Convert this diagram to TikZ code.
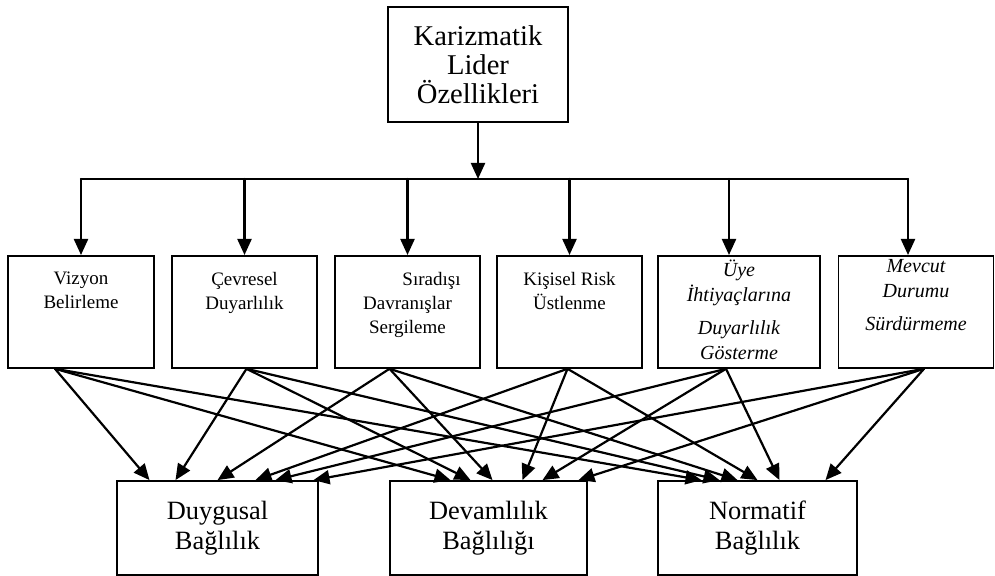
\documentclass[tikz,border=0pt]{standalone}
\usepackage{fontspec}
\setmainfont{Liberation Serif}
\usetikzlibrary{arrows.meta}

\tikzset{
  topbox/.style={draw,line width=0.9pt,inner sep=0pt,align=center,
    minimum width=90pt,minimum height=57.5pt,
    font=\fontsize{14.3}{14.5}\selectfont},
  midbox/.style={draw,line width=0.9pt,inner sep=0pt,anchor=north,
    font=\fontsize{9.5}{12}\selectfont},
  endbox/.style={draw,line width=0.9pt,inner sep=0pt,align=center,
    minimum height=47pt,font=\fontsize{13.2}{15}\selectfont},
  link/.style={line width=1.1pt,-{Triangle[length=8pt,width=7pt]}},
}
% text of a middle box, set from its top
\newcommand{\celltext}[3][8pt]{\parbox[c][56pt][t]{#2}{\centering\vspace*{#1}#3}}

\begin{document}
\begin{tikzpicture}[x=0.5pt,y=-0.5pt,line cap=round]
  \useasboundingbox (0,0) rectangle (995,576);

  \node[topbox] (lider) at (478,64.5) {Karizmatik\\Lider\\Özellikleri};

  \node[midbox] (vizyon) at (81,255) {\celltext{73pt}{Vizyon\\Belirleme}};
  \node[midbox] (cevresel) at (244.5,255) {\celltext{72.5pt}{Çevresel\\Duyarlılık}};
  \node[midbox] (siradisi) at (407.5,255)
    {\celltext{72.5pt}{\hspace*{24pt}Sıradışı\\Davranışlar\\Sergileme}};
  \node[midbox] (risk) at (569.5,255) {\celltext{72.5pt}{Kişisel Risk\\Üstlenme}};
  \node[midbox,font=\fontsize{10}{12.5}\selectfont\itshape] (uye) at (739,255)
    {\celltext[2pt]{81pt}{Üye\\İhtiyaçlarına\\[4pt]Duyarlılık\\Gösterme}};
  \node[midbox,font=\fontsize{10}{12.5}\selectfont\itshape] (mevcut) at (916,255)
    {\celltext[2pt]{77.5pt}{Mevcut\\Durumu\\[4pt]Sürdürmeme}};

  \node[endbox,minimum width=100.5pt] (duygusal) at (217.5,528) {Duygusal\\Bağlılık};
  \node[endbox,minimum width=98.5pt] (devamlilik) at (488.5,528) {Devamlılık\\Bağlılığı};
  \node[endbox,minimum width=99.5pt] (normatif) at (757.5,528) {Normatif\\Bağlılık};

  % bus under the top box
  \coordinate (busleft) at (81,179);
  \coordinate (busright) at (908,179);
  \draw[line width=1.1pt] (busleft) -- (busright);
  \draw[link] (lider.south) -- (lider.south |- busleft);
  \draw[link] (vizyon.north |- busleft) -- (vizyon.north);
  \draw[link] (cevresel.north |- busleft) -- (cevresel.north);
  \draw[link] (siradisi.north |- busleft) -- (siradisi.north);
  \draw[link] (risk.north |- busleft) -- (risk.north);
  \draw[link] ([xshift=-5pt]uye.north |- busleft) -- ([xshift=-5pt]uye.north);
  \draw[link] (busright) -- (busright |- mevcut.north);

  % every trait to every kind of commitment
  \foreach \t/\d in {duygusal/-34pt,devamlilik/-19pt,normatif/-28pt}
    \draw[link] ([xshift=-13pt]vizyon.south) -- ([xshift=\d]\t.north);
  \foreach \t/\d in {duygusal/-21pt,devamlilik/-9pt,normatif/-19pt}
    \draw[link] ([xshift=1pt]cevresel.south) -- ([xshift=\d]\t.north);
  \foreach \t/\d in {duygusal/0pt,devamlilik/2pt,normatif/-10pt}
    \draw[link] ([xshift=-9pt]siradisi.south) -- ([xshift=\d]\t.north);
  \foreach \t/\d in {duygusal/19pt,devamlilik/17pt,normatif/0pt}
    \draw[link] ([xshift=-1pt]risk.south) -- ([xshift=\d]\t.north);
  \foreach \t/\d in {duygusal/29pt,devamlilik/27pt,normatif/11pt}
    \draw[link] ([xshift=-6.5pt]uye.south) -- ([xshift=\d]\t.north);
  \foreach \t/\d in {duygusal/48pt,devamlilik/45pt,normatif/34pt}
    \draw[link] ([xshift=4pt]mevcut.south) -- ([xshift=\d]\t.north);
\end{tikzpicture}
\end{document}
